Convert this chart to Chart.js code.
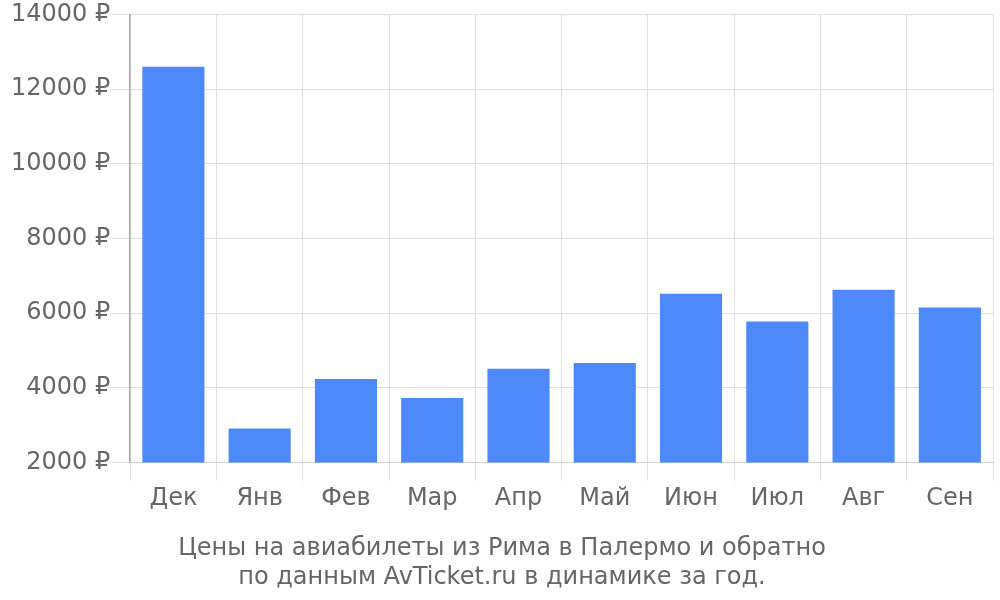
<!DOCTYPE html>
<html>
<head>
<meta charset="utf-8">
<script src="https://cdn.jsdelivr.net/npm/chart.js@4/dist/chart.umd.min.js"></script>
<style>
  html, body { margin: 0; padding: 0; background: #fff; }
  #wrap { width: 1000px; height: 600px; }
</style>
</head>
<body>
<div id="wrap"><canvas id="chart"></canvas></div>
<script>
// months and prices (rub)
var months = ['Дек', 'Янв', 'Фев', 'Мар', 'Апр', 'Май', 'Июн', 'Июл', 'Авг', 'Сен'];
var prices = [12600, 2910, 4240, 3730, 4510, 4670, 6520, 5780, 6630, 6150];
var titleLines = ['Цены на авиабилеты из Рима в Палермо и обратно', 'по данным AvTicket.ru в динамике за год.'];

Chart.defaults.font.family = '"DejaVu Sans", sans-serif';
Chart.defaults.color = '#666';

var ctx = document.getElementById('chart').getContext('2d');
new Chart(ctx, {
    type: 'bar',
    data: {
        labels: months,
        datasets: [{
            data: prices,
            backgroundColor: '#4d89f9',
            borderWidth: 0,
            barPercentage: 0.72,
            categoryPercentage: 1
        }]
    },
    options: {
        responsive: true,
        maintainAspectRatio: false,
        animation: false,
        layout: { padding: { top: 1, right: 7, left: 11, bottom: 8 } },
        plugins: {
            legend: { display: false },
            tooltip: { enabled: false },
            title: {
                display: true,
                position: 'bottom',
                text: titleLines,
                font: { size: 24, weight: 'normal' },
                color: '#666',
                padding: { top: 17, bottom: 0 }
            }
        },
        scales: {
            x: {
                grid: { color: '#e0e0e0', tickLength: 18, offset: true },
                border: { color: '#d0d0d0' },
                ticks: { font: { size: 24 }, padding: 4 }
            },
            y: {
                min: 2000,
                max: 14000,
                grid: { color: '#e0e0e0', tickLength: 20 },
                border: { color: '#aaa', width: 1.5 },
                ticks: {
                    stepSize: 2000,
                    font: { size: 24 },
                    padding: 0,
                    callback: function(v) { return v + ' ₽'; }
                }
            }
        }
    }
});
</script>
</body>
</html>
